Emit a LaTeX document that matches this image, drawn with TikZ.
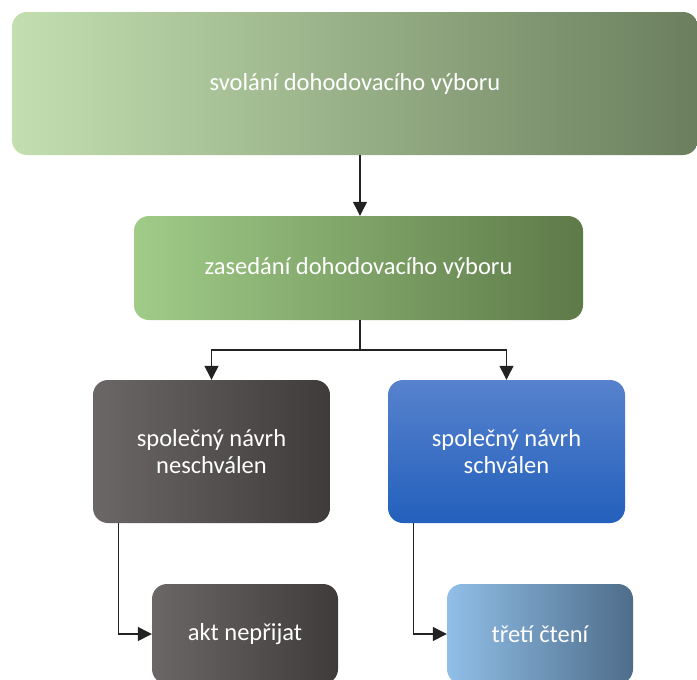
\documentclass[tikz,border=0pt]{standalone}
\usepackage{fontspec}
\setmainfont{Carlito}
\usetikzlibrary{arrows.meta}
\definecolor{grnA}{HTML}{C3DFB0}
\definecolor{grnB}{HTML}{6B7F5E}
\definecolor{grnC}{HTML}{A0CC88}
\definecolor{grnD}{HTML}{5D7A48}
\definecolor{gryA}{HTML}{6B6766}
\definecolor{gryB}{HTML}{3F3B3A}
\definecolor{bluA}{HTML}{5782CD}
\definecolor{bluB}{HTML}{2360BC}
\definecolor{ltbA}{HTML}{91BFE8}
\definecolor{ltbB}{HTML}{4E6D8A}
\definecolor{lincol}{HTML}{222222}
\tikzset{
  box/.style={rounded corners=15pt, text=white, align=center,
    font=\fontsize{24.5}{27}\selectfont, inner sep=0pt},
  flow/.style={draw=lincol, line width=1.3pt, -{Triangle[width=14pt,length=14pt]}},
  link/.style={draw=lincol, line width=1.3pt}
}
\begin{document}
\begin{tikzpicture}[x=1pt,y=-1pt]
    \useasboundingbox (0,0) rectangle (697,680);
    \fill[white] (0,0) rectangle (697,680);
    \begin{scope}
    \clip (0,0) rectangle (697,680);
    \node[box, left color=grnA, right color=grnB, minimum width=686pt, minimum height=143pt] (svolani) at (355,83.5) {svolání dohodovacího výboru};
    \node[box, left color=grnC, right color=grnD, minimum width=449pt, minimum height=104pt] (zasedani) at (358.5,268) {zasedání dohodovacího výboru};
    \node[box, left color=gryA, right color=gryB, minimum width=237pt, minimum height=143pt] (neschvalen) at (211.5,451.5) {společný návrh\\neschválen};
    \node[box, top color=bluA, bottom color=bluB, minimum width=237pt, minimum height=143pt] (schvalen) at (506.5,451.5) {společný návrh\\schválen};
    \node[box, left color=gryA, right color=gryB, minimum width=186pt, minimum height=100pt] (akt) at (245,634) {akt nepřijat};
    \node[box, left color=ltbA, right color=ltbB, minimum width=186pt, minimum height=100pt] (cteni) at (540,634) {třetí čtení};
    \end{scope}

    \coordinate (split) at (360,350);
    \draw[flow] (svolani.south -| split) -- (zasedani.north -| split);
    \draw[link] (zasedani.south -| split) -- (split);
    \draw[flow] (split) -| (neschvalen.north);
    \draw[flow] (split) -| (schvalen.north);
    \draw[flow] ([xshift=26pt]neschvalen.south west) |- (akt.west);
    \draw[flow] ([xshift=26pt]schvalen.south west) |- (cteni.west);
\end{tikzpicture}
\end{document}
